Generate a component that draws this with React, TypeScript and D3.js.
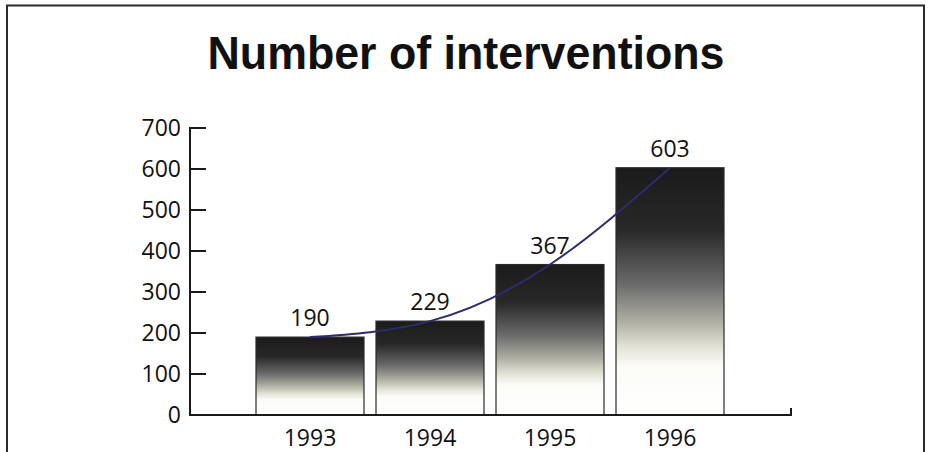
import React from "react";
import * as d3 from "d3";

const title = "Number of interventions";
const years = ["1993", "1994", "1995", "1996"];
const interventions = [190, 229, 367, 603];
const yTicks = [0, 100, 200, 300, 400, 500, 600, 700];

const W = 928;
const H = 452;

export default function App() {
  const y = d3.scaleLinear().domain([0, 700]).range([415, 128]);
  const x = d3
    .scaleBand<string>()
    .domain(years)
    .range([250, 730])
    .paddingInner(0.1)
    .paddingOuter(0.05);
  const bw = x.bandwidth();
  const baseY = y(0);
  const axisX = 190;

  const pts: [number, number][] = years.map((yr, i) => [
    (x(yr) as number) + bw / 2,
    y(interventions[i]),
  ]);
  const linePath = d3.line().curve(d3.curveNatural)(pts) || "";

  const numFont = "'Open Sans', 'DejaVu Sans', sans-serif";

  return (
    <svg
      width={W}
      height={H}
      viewBox={`0 0 ${W} ${H}`}
      style={{ position: "absolute", left: 0, top: 0, background: "#ffffff" }}
    >
      <defs>
        <linearGradient id="barGrad" x1="0" y1="0" x2="0" y2="1">
          <stop offset="0" stopColor="#1b1b1b" />
          <stop offset="0.25" stopColor="#282828" />
          <stop offset="0.47" stopColor="#6a6a6a" />
          <stop offset="0.62" stopColor="#adada2" />
          <stop offset="0.73" stopColor="#e4e4d8" />
          <stop offset="0.8" stopColor="#fbfbf7" />
          <stop offset="1" stopColor="#ffffff" />
        </linearGradient>
      </defs>

      <rect x={0} y={0} width={W} height={H} fill="#ffffff" />

      {/* frame */}
      <path
        d={`M7,${H} V5.5 H924 V${H}`}
        fill="none"
        stroke="#2a2a2a"
        strokeWidth={2}
      />

      {/* title */}
      <text
        x={466}
        y={69}
        textAnchor="middle"
        fontFamily="'Liberation Sans', Arial, sans-serif"
        fontWeight="bold"
        fontSize={47}
        textLength={517}
        lengthAdjust="spacingAndGlyphs"
        fill="#111"
      >
        {title}
      </text>

      {/* bars */}
      {years.map((yr, i) => (
        <rect
          key={yr}
          x={x(yr)}
          y={y(interventions[i])}
          width={bw}
          height={baseY - y(interventions[i])}
          fill="url(#barGrad)"
          stroke="#2a2a2a"
          strokeWidth={1.2}
        />
      ))}

      {/* trend curve */}
      <path d={linePath} fill="none" stroke="#2e2c6c" strokeWidth={2} />

      {/* value labels */}
      {years.map((yr, i) => (
        <text
          key={"v" + yr}
          x={(x(yr) as number) + bw / 2}
          y={y(interventions[i]) - 11}
          textAnchor="middle"
          fontFamily={numFont}
          fontWeight={500}
          fontSize={23}
          fill="#111"
        >
          {interventions[i]}
        </text>
      ))}

      {/* y axis */}
      <line
        x1={axisX}
        x2={axisX}
        y1={y(700) - 1}
        y2={baseY + 1}
        stroke="#1a1a1a"
        strokeWidth={2}
      />
      {yTicks.map((t) => (
        <g key={t}>
          <line
            x1={axisX}
            x2={axisX + 16}
            y1={y(t)}
            y2={y(t)}
            stroke="#1a1a1a"
            strokeWidth={2}
          />
          <text
            x={181}
            y={y(t)}
            dy="0.36em"
            textAnchor="end"
            fontFamily={numFont}
            fontWeight={500}
            fontSize={23}
            fill="#111"
          >
            {t}
          </text>
        </g>
      ))}

      {/* x axis */}
      <path
        d={`M${axisX},${baseY} H791 V${baseY - 7}`}
        fill="none"
        stroke="#1a1a1a"
        strokeWidth={2}
      />
      {years.map((yr) => (
        <text
          key={"x" + yr}
          x={(x(yr) as number) + bw / 2}
          y={445.5}
          textAnchor="middle"
          fontFamily={numFont}
          fontWeight={500}
          fontSize={23}
          fill="#111"
        >
          {yr}
        </text>
      ))}
    </svg>
  );
}
